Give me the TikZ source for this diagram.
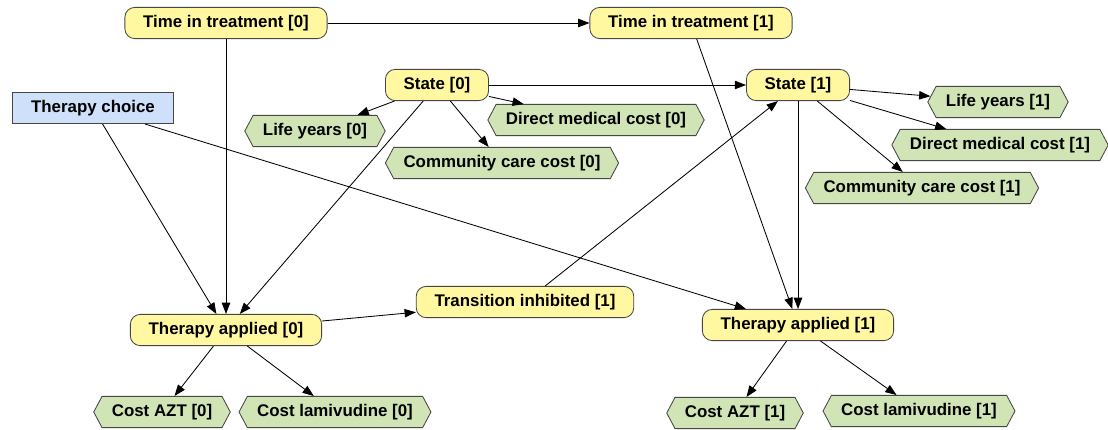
\documentclass[tikz,border=0pt]{standalone}
\usepackage{fontspec}
\setmainfont{Liberation Sans}
\usetikzlibrary{arrows.meta,shapes.symbols}
\definecolor{chancefill}{RGB}{255,248,160}
\definecolor{valuefill}{RGB}{208,228,182}
\definecolor{decisionfill}{RGB}{206,224,250}
\definecolor{nodeline}{RGB}{70,70,70}

\begin{document}
\begin{tikzpicture}[x=0.025cm,y=-0.025cm,
    every node/.style={font=\fontsize{12}{14}\selectfont\bfseries, draw=nodeline, line width=0.6pt, minimum height=0.78cm},
    chance/.style={fill=chancefill, rounded corners=7pt, inner xsep=13pt},
    value/.style={fill=valuefill, signal, signal to=west and east, signal pointer angle=124, inner xsep=7pt},
    decision/.style={fill=decisionfill, inner xsep=13.5pt},
    link/.style={-{Triangle[length=8pt,width=6pt]}, line width=0.6pt}]
    \useasboundingbox (0,0) rectangle (1108,429);
    % Time slice 0
    \node[chance] (time0) at (226,23) {Time in treatment [0]};
    \node[chance] (state0) at (437,85) {State [0]};
    \node[decision] (choice) at (93,108) {Therapy choice};
    \node[value] (life0) at (315,131) {Life years [0]};
    \node[value] (direct0) at (596,120) {Direct medical cost [0]};
    \node[value] (comm0) at (502,163) {Community care cost [0]};
    \node[chance] (applied0) at (226,330) {Therapy applied [0]};
    \node[value] (azt0) at (162,412) {Cost AZT [0]};
    \node[value] (lami0) at (335,412) {Cost lamivudine [0]};
    % Time slice 1
    \node[chance] (time1) at (691,23) {Time in treatment [1]};
    \node[chance] (state1) at (798,85) {State [1]};
    \node[value] (life1) at (998,102) {Life years [1]};
    \node[value] (direct1) at (1000,145) {Direct medical cost [1]};
    \node[value] (comm1) at (922,188) {Community care cost [1]};
    \node[chance] (inhib1) at (525,302) {Transition inhibited [1]};
    \node[chance] (applied1) at (798,325) {Therapy applied [1]};
    \node[value] (azt1) at (735,413) {Cost AZT [1]};
    \node[value] (lami1) at (919,411) {Cost lamivudine [1]};
    % Links
    \draw[link] (time0) -- (time1);
    \draw[link] (time0) -- (applied0);
    \draw[link] (time1) -- (applied1);
    \draw[link] (state0) -- (state1);
    \draw[link] (state0) -- (life0);
    \draw[link] (state0) -- (direct0);
    \draw[link] (state0) -- (comm0);
    \draw[link] (state0) -- (applied0);
    \draw[link] (choice) -- (applied0);
    \draw[link] (choice) -- (applied1);
    \draw[link] (applied0) -- (inhib1);
    \draw[link] (inhib1) -- (state1);
    \draw[link] (state1) -- (life1);
    \draw[link] (state1) -- (direct1);
    \draw[link] (state1) -- (comm1);
    \draw[link] (state1) -- (applied1);
    \draw[link] (applied0) -- (azt0);
    \draw[link] (applied0) -- (lami0);
    \draw[link] (applied1) -- (azt1);
    \draw[link] (applied1) -- (lami1);
\end{tikzpicture}
\end{document}
